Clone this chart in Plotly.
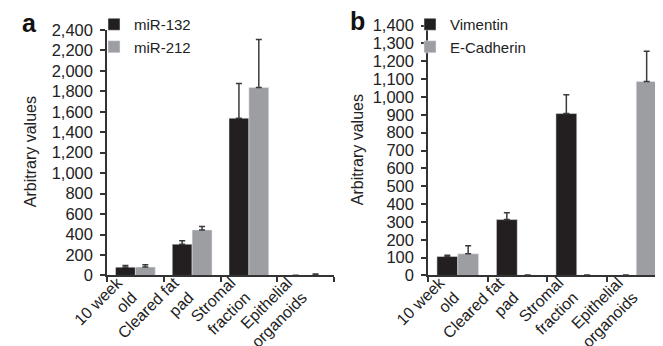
import plotly.graph_objects as go

categories = ["10 week<br>old", "Cleared fat<br>pad", "Stromal<br>fraction", "Epithelial<br>organoids"]

mir132 = [81, 306, 1537, 2]
mir132_err = [17, 32, 339, 0]
mir212 = [82, 445, 1837, 5]
mir212_err = [22, 33, 469, 10]

vimentin = [106, 313, 907, 2]
vimentin_err = [7, 38, 106, 0]
ecadherin = [121, 2, 3, 1087]
ecadherin_err = [45, 0, 0, 170]

ticks_a = [0, 200, 400, 600, 800, 1000, 1200, 1400, 1600, 1800, 2000, 2200, 2400]
ticks_b = [0, 100, 200, 300, 400, 500, 600, 700, 800, 900, 1000, 1100, 1200, 1300, 1400]

BLACK = "#231f20"
GRAY = "#9d9ea2"
ERR = "#3a3a3a"
FONT = "Liberation Sans, Arial, sans-serif"
W, H = 663, 346

def err(vals):
    return dict(type="data", array=vals, arrayminus=[0] * len(vals), symmetric=False,
                color=ERR, thickness=1.5, width=3)

fig = go.Figure()
fig.add_bar(x=categories, y=mir132, name="miR-132", marker_color=BLACK, error_y=err(mir132_err),
            xaxis="x", yaxis="y", legend="legend")
fig.add_bar(x=categories, y=mir212, name="miR-212", marker_color=GRAY, error_y=err(mir212_err),
            xaxis="x", yaxis="y", legend="legend")
fig.add_bar(x=categories, y=vimentin, name="Vimentin", marker_color=BLACK, error_y=err(vimentin_err),
            xaxis="x2", yaxis="y2", legend="legend2")
fig.add_bar(x=categories, y=ecadherin, name="E-Cadherin", marker_color=GRAY, error_y=err(ecadherin_err),
            xaxis="x2", yaxis="y2", legend="legend2")

def xd(px):
    return px / W

def yd(py):
    return 1 - py / H

xaxis_common = dict(type="category", range=[-0.5, 3.5], showline=True, linecolor="#333", linewidth=1.5,
                    ticks="outside", tickson="boundaries", ticklen=5, tickwidth=1.5, tickcolor="#333",
                    tickangle=-45, tickfont=dict(size=16, color="#222"), automargin=False,
                    ticklabelshift=-18, ticklabelstandoff=-10,
                    showgrid=False, zeroline=False, fixedrange=True)
yaxis_common = dict(showline=True, linecolor="#333", linewidth=1.5, ticks="outside", ticklen=5,
                    tickwidth=1.5, tickcolor="#333", tickfont=dict(size=16.5, color="#222"),
                    ticklabelstandoff=4,
                    showgrid=False, zeroline=False, automargin=False, tickformat=",", separatethousands=True)

fig.update_layout(
    width=W, height=H, margin=dict(l=0, r=0, t=0, b=0),
    paper_bgcolor="white", plot_bgcolor="white",
    font=dict(family=FONT, color="#222"),
    barmode="group", bargap=0.3, bargroupgap=0,
    xaxis=dict(xaxis_common, domain=[xd(99), xd(326)], anchor="y"),
    yaxis=dict(yaxis_common, domain=[yd(267), yd(20)], range=[0, 2400], tickvals=ticks_a, anchor="x"),
    xaxis2=dict(xaxis_common, domain=[xd(420), xd(658)], anchor="y2"),
    yaxis2=dict(yaxis_common, domain=[yd(267), yd(15.7)], range=[0, 1400], tickvals=ticks_b, anchor="x2"),
    legend=dict(x=xd(86), y=yd(-2), xanchor="left", yanchor="top", bgcolor="rgba(0,0,0,0)",
                font=dict(size=15, color="#222"), itemwidth=30, tracegroupgap=0),
    legend2=dict(x=xd(402), y=yd(-2), xanchor="left", yanchor="top", bgcolor="rgba(0,0,0,0)",
                 font=dict(size=15, color="#222"), itemwidth=30, tracegroupgap=0),
    annotations=[
        dict(text="<b>a</b>", x=xd(12), y=yd(-3), xref="paper", yref="paper", xanchor="left", yanchor="top",
             showarrow=False, font=dict(size=25, color="#111")),
        dict(text="<b>b</b>", x=xd(340), y=yd(-5), xref="paper", yref="paper", xanchor="left", yanchor="top",
             showarrow=False, font=dict(size=25, color="#111")),
        dict(text="Arbitrary values", x=xd(22), y=yd(143), xref="paper", yref="paper", textangle=-90,
             xanchor="center", yanchor="middle",
             showarrow=False, font=dict(size=16, color="#222")),
        dict(text="Arbitrary values", x=xd(349), y=yd(141), xref="paper", yref="paper", textangle=-90,
             xanchor="center", yanchor="middle",
             showarrow=False, font=dict(size=16, color="#222")),
    ],
)

fig.write_html("out.html")
